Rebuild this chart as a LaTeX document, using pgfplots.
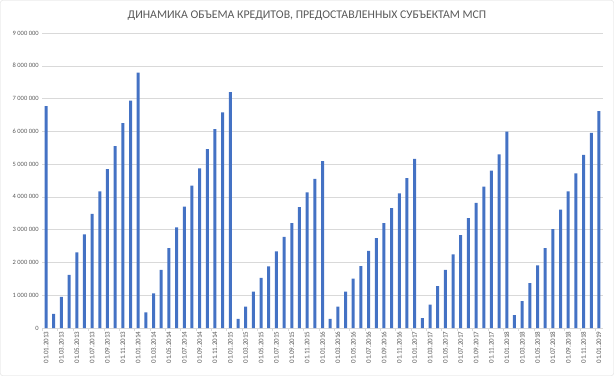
\documentclass[border=0pt]{standalone}
\usepackage{fontspec}
\setmainfont{Carlito}
\usepackage{pgfplots}
\pgfplotsset{compat=1.18}
\usepackage{pgfplotstable}
\definecolor{barblue}{HTML}{4472C4}
\definecolor{txtgray}{HTML}{595959}
\definecolor{gridgray}{HTML}{D9D9D9}
\pgfplotstableread{
x y
0 6770000
1 430000
2 950000
3 1620000
4 2310000
5 2860000
6 3480000
7 4170000
8 4850000
9 5550000
10 6250000
11 6940000
12 7790000
13 480000
14 1060000
15 1770000
16 2440000
17 3070000
18 3700000
19 4340000
20 4870000
21 5460000
22 6070000
23 6580000
24 7200000
25 280000
26 650000
27 1110000
28 1530000
29 1880000
30 2340000
31 2780000
32 3200000
33 3690000
34 4140000
35 4550000
36 5090000
37 280000
38 650000
39 1110000
40 1510000
41 1890000
42 2350000
43 2740000
44 3200000
45 3660000
46 4110000
47 4570000
48 5160000
49 300000
50 710000
51 1280000
52 1770000
53 2250000
54 2830000
55 3350000
56 3820000
57 4310000
58 4800000
59 5300000
60 5990000
61 390000
62 820000
63 1370000
64 1910000
65 2440000
66 3020000
67 3610000
68 4170000
69 4720000
70 5280000
71 5950000
72 6620000
}\data
\begin{document}
\begin{tikzpicture}
\useasboundingbox (0,0) rectangle (614pt,376pt);
\draw[gridgray, rounded corners=2pt] (0.5pt,0.5pt) rectangle (613.5pt,375.5pt);
\node[txtgray, font=\fontsize{11.8}{13}\selectfont] at (307pt,360pt) {ДИНАМИКА ОБЪЕМА КРЕДИТОВ, ПРЕДОСТАВЛЕННЫХ СУБЪЕКТАМ МСП};
\begin{axis}[
  at={(42.2pt,48pt)}, anchor=south west,
  scale only axis, width=560.6pt, height=295pt,
  xmin=-0.5, xmax=72.5, ymin=0, ymax=9000000,
  axis x line*=bottom, axis y line*=left,
  y axis line style={draw=none},
  x axis line style={gridgray},
  ymajorgrids, grid style={gridgray},
  ytick={0,1000000,...,9000000},
  scaled y ticks=false,
  yticklabel style={txtgray, font=\fontsize{6.5}{7}\selectfont, /pgf/number format/.cd, fixed, 1000 sep={\ }, assume math mode=true},
  xtick={0,2,...,72},
  xticklabels={01.01.2013,01.03.2013,01.05.2013,01.07.2013,01.09.2013,01.11.2013,01.01.2014,01.03.2014,01.05.2014,01.07.2014,01.09.2014,01.11.2014,01.01.2015,01.03.2015,01.05.2015,01.07.2015,01.09.2015,01.11.2015,01.01.2016,01.03.2016,01.05.2016,01.07.2016,01.09.2016,01.11.2016,01.01.2017,01.03.2017,01.05.2017,01.07.2017,01.09.2017,01.11.2017,01.01.2018,01.03.2018,01.05.2018,01.07.2018,01.09.2018,01.11.2018,01.01.2019},
  xticklabel style={txtgray, rotate=90, anchor=east, font=\fontsize{7}{8}\selectfont},
  major tick length=0pt,
  tick align=outside,
  extra x ticks={-0.5,1.5,...,72.5},
  extra x tick labels={},
  extra x tick style={major tick length=3pt, tick style={gridgray}, grid=none},
]
\addplot[ybar, bar width=3pt, fill=barblue, draw=none] table[x=x,y=y] {\data};
\end{axis}
\end{tikzpicture}
\end{document}
